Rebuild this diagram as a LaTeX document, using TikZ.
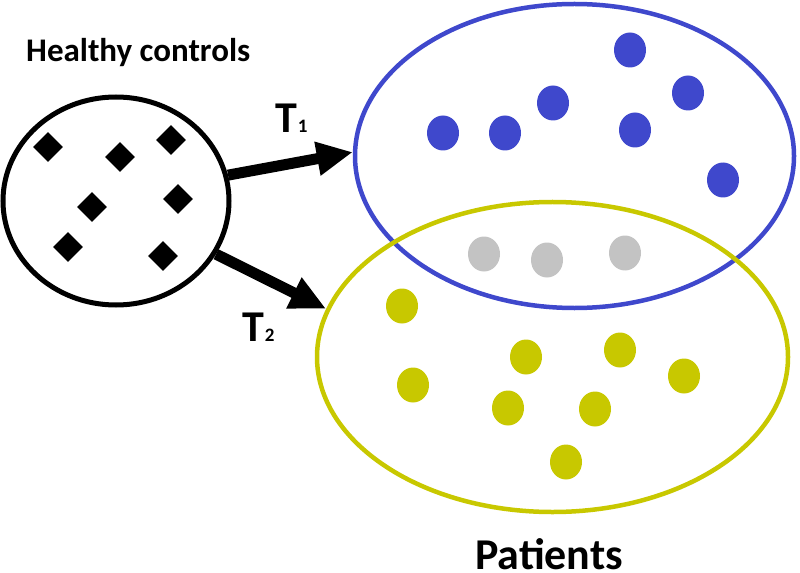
\documentclass[tikz,border=0pt]{standalone}
\usepackage{fontspec}
\setmainfont{Carlito}
\usetikzlibrary{shapes.geometric,arrows.meta}
\definecolor{pblue}{RGB}{63,72,204}
\definecolor{pyellow}{RGB}{200,200,0}
\definecolor{pgray}{RGB}{195,195,195}
\begin{document}
\begin{tikzpicture}[x=1bp,y=-1bp,
  group/.style={draw,ellipse,inner sep=0pt,line width=4.5bp},
  gem/.style={diamond,fill=black,inner sep=0pt,minimum width=30bp,minimum height=30bp},
  dot/.style={ellipse,inner sep=0pt,minimum width=32bp,minimum height=35bp},
  conn/.style={line width=11bp,-{Triangle[length=36bp,width=32bp]}},
  lbl/.style={anchor=base west,inner sep=0pt,font=\bfseries\fontsize{44bp}{48bp}\selectfont},
  subdig/.style={}
]
\useasboundingbox (0,0) rectangle (800,573);
% healthy controls
\node[group,line width=5bp,minimum width=226bp,minimum height=208bp] (hc) at (116,201) {};
\foreach \p [count=\i] in {(48,147),(120,157),(171,140),(92,207),(178,199),(68,247),(163,256)}
  \node[gem] (g\i) at \p {};
% patients groups
\node[group,draw=pblue,minimum width=439bp,minimum height=304bp] (blue) at (574.5,156) {};
\node[group,draw=pyellow,minimum width=471bp,minimum height=310bp] (yellow) at (552.5,357) {};
\foreach \p [count=\i] in {(630,50),(688,93),(553,103),(443,133),(505,133),(635,130),(723,180)}
  \node[dot,fill=pblue] (b\i) at \p {};
\foreach \p [count=\i] in {(484,254),(547,260),(625,253)}
  \node[dot,fill=pgray] (c\i) at \p {};
\foreach \p [count=\i] in {(402,306),(526,357),(620,350),(684,376),(413,385),(508,408),(595,409),(566,462)}
  \node[dot,fill=pyellow] (y\i) at \p {};
% arrows
\draw[conn] (hc.13) -- (blue.179);
\draw[conn] (hc.-28) -- (yellow.168);
% labels
\node[anchor=base west,inner sep=0pt,font=\bfseries\fontsize{33bp}{38bp}\selectfont] (hctext) at (26,62) {Healthy controls};
\node[lbl] (t1) at (275,133) {T\kern1bp{\fontsize{19bp}{20bp}\selectfont 1}};
\node[lbl] (t2) at (242,341) {T\kern1bp{\fontsize{19bp}{20bp}\selectfont 2}};
\node[lbl] (pat) at (475,569) {Patients};
\end{tikzpicture}
\end{document}
